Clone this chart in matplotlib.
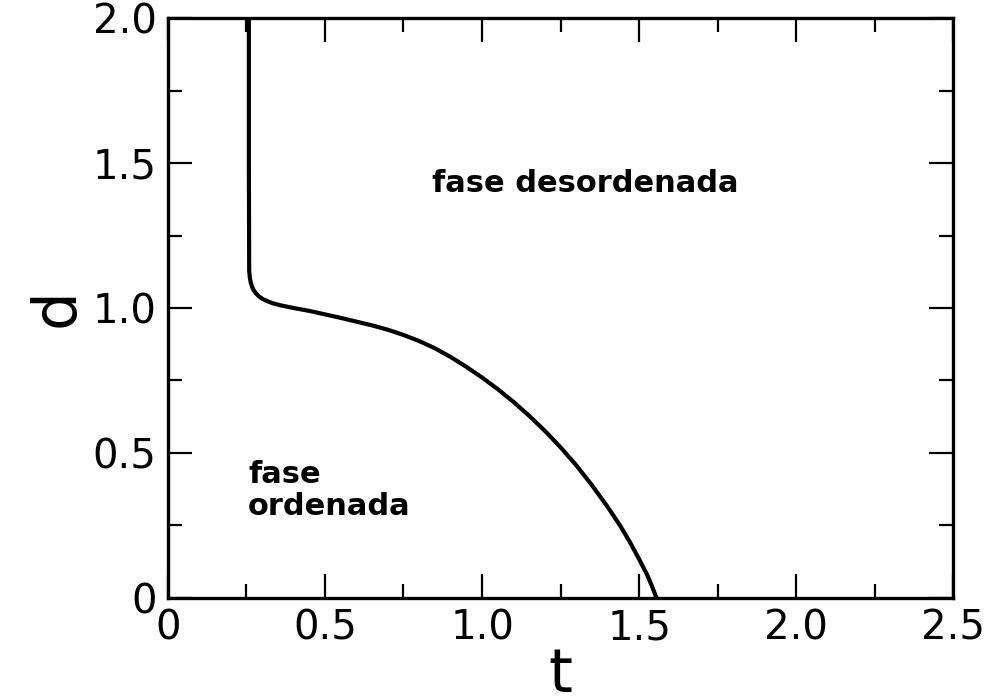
import matplotlib
matplotlib.use("Agg")
import matplotlib.pyplot as plt
from matplotlib.ticker import MultipleLocator, FixedLocator

# Phase boundary d(t)
t_vals = [0.258, 0.258, 0.259, 0.261, 0.264, 0.268, 0.273, 0.280, 0.290, 0.302, 0.318,
          0.335, 0.36, 0.40, 0.45, 0.50, 0.55, 0.60, 0.65, 0.70, 0.75, 0.80, 0.85,
          0.90, 0.95, 1.00, 1.05, 1.10, 1.15, 1.20, 1.25, 1.30, 1.35, 1.40, 1.44,
          1.47, 1.50, 1.525, 1.54, 1.555]
d_vals = [2.0, 1.50, 1.13, 1.105, 1.088, 1.074, 1.062, 1.051, 1.040, 1.031, 1.023,
          1.016, 1.009, 1.000, 0.990, 0.978, 0.966, 0.953, 0.940, 0.925, 0.907, 0.886, 0.861,
          0.831, 0.797, 0.760, 0.720, 0.676, 0.628, 0.576, 0.519, 0.457, 0.388, 0.313, 0.248,
          0.193, 0.133, 0.080, 0.042, 0.0]

x_ticks = [0, 0.5, 1.0, 1.5, 2.0, 2.5]
x_ticklabels = ["0", "0.5", "1.0", "1.5", "2.0", "2.5"]
y_ticks = [0, 0.5, 1.0, 1.5, 2.0]
y_ticklabels = ["0", "0.5", "1.0", "1.5", "2.0"]

fig = plt.figure(figsize=(9.87, 7.0), dpi=100)
ax = fig.add_axes([0.170, 0.146, 0.796, 0.828])

ax.plot(t_vals, d_vals, color="black", lw=3.0, solid_capstyle="butt",
        solid_joinstyle="round")

ax.set_xlim(0, 2.5)
ax.set_ylim(0, 2.0)
ax.xaxis.set_major_locator(FixedLocator(x_ticks))
ax.yaxis.set_major_locator(FixedLocator(y_ticks))
ax.xaxis.set_minor_locator(MultipleLocator(0.25))
ax.yaxis.set_minor_locator(MultipleLocator(0.25))
ax.set_xticklabels(x_ticklabels)
ax.set_yticklabels(y_ticklabels)

for s in ax.spines.values():
    s.set_linewidth(2.4)

ax.tick_params(which="both", direction="in", top=True, right=True, width=1.6)
ax.tick_params(which="major", length=17, labelsize=29, pad=8)
ax.tick_params(which="minor", length=10)

ax.set_xlabel("t", fontsize=44, labelpad=-2)
ax.set_ylabel("d", fontsize=44, labelpad=4)

ax.text(0.84, 1.43, "fase desordenada", fontsize=22, fontweight="bold", ha="left", va="center")
ax.text(0.255, 0.37, "fase\nordenada", fontsize=22, fontweight="bold", ha="left", va="center",
        linespacing=1.15)

fig.savefig("out.png", dpi=100)
